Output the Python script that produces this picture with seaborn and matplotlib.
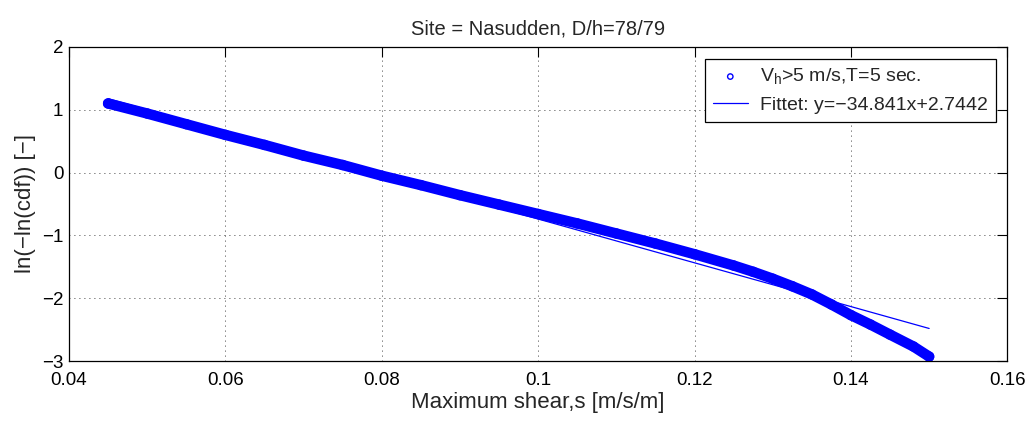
import numpy as np
import matplotlib
matplotlib.use("Agg")
import matplotlib.pyplot as plt
import seaborn as sns

# values
shear = [0.045, 0.050, 0.055, 0.060, 0.065, 0.070, 0.075, 0.080, 0.085,
         0.090, 0.095, 0.100, 0.105, 0.110, 0.115, 0.120, 0.125, 0.1275,
         0.130, 0.1325, 0.135, 0.1375, 0.140, 0.1425, 0.145, 0.148, 0.150]
lnln_cdf = [1.10, 0.94, 0.77, 0.60, 0.44, 0.27, 0.12, -0.05, -0.20,
            -0.36, -0.51, -0.66, -0.81, -0.97, -1.13, -1.30, -1.48, -1.58,
            -1.69, -1.81, -1.94, -2.10, -2.27, -2.42, -2.58, -2.77, -2.93]

fit_slope = -34.841
fit_intercept = 2.7442
fit_x = [0.045, 0.150]

xticks = [0.04, 0.06, 0.08, 0.1, 0.12, 0.14, 0.16]
xtick_labels = ["0.04", "0.06", "0.08", "0.1", "0.12", "0.14", "0.16"]
yticks = [-3, -2, -1, 0, 1, 2]
ytick_labels = ["\u22123", "\u22122", "\u22121", "0", "1", "2"]

sns.set_style("white")
plt.rcParams["font.family"] = ["Liberation Sans", "DejaVu Sans"]

fig = plt.figure(figsize=(10.3, 4.21), dpi=100)
ax = fig.add_axes([0.067, 0.1425, 0.911, 0.746])

# dense band of circles
sns.lineplot(x=shear, y=lnln_cdf, ax=ax, color="blue", linewidth=7.5,
             sort=False, legend=False, solid_capstyle="round")
sns.scatterplot(x=shear, y=lnln_cdf, ax=ax, marker="o", s=42,
                facecolor="none", edgecolor="blue", linewidth=1,
                label="V$_\\mathregular{h}$>5 m/s,T=5 sec.")

fit_y = [fit_slope * v + fit_intercept for v in fit_x]
sns.lineplot(x=fit_x, y=fit_y, ax=ax, color="blue", linewidth=0.9,
             label="Fittet: y=\u221234.841x+2.7442")

ax.set_xlim(0.04, 0.16)
ax.set_ylim(-3, 2)
ax.set_xticks(xticks)
ax.set_xticklabels(xtick_labels)
ax.set_yticks(yticks)
ax.set_yticklabels(ytick_labels)
ax.tick_params(direction="in", length=7, width=0.8, top=True, right=True,
               labelsize=13.5, colors="black")
ax.tick_params(axis="x", pad=8)
ax.tick_params(axis="y", pad=4)
ax.grid(True, color="black", linestyle=(0, (1, 5)), linewidth=0.6)
for sp in ax.spines.values():
    sp.set_visible(True)
    sp.set_color("black")
    sp.set_linewidth(0.9)

ax.set_title("Site = Nasudden, D/h=78/79", fontsize=14.5, pad=9)
ax.set_xlabel("Maximum shear,s [m/s/m]", fontsize=16, labelpad=2)
ax.set_ylabel("ln(\u2212ln(cdf)) [\u2212]", fontsize=16, labelpad=4)

leg = ax.legend(loc="upper right", bbox_to_anchor=(0.988, 0.962),
                fontsize=14, frameon=True, fancybox=False, framealpha=1,
                edgecolor="black", borderpad=0.4, handlelength=1.8,
                handletextpad=0.65, labelspacing=0.5, borderaxespad=0,
                markerscale=0.6)
leg.get_frame().set_linewidth(0.9)

fig.savefig("out.png", dpi=100)
